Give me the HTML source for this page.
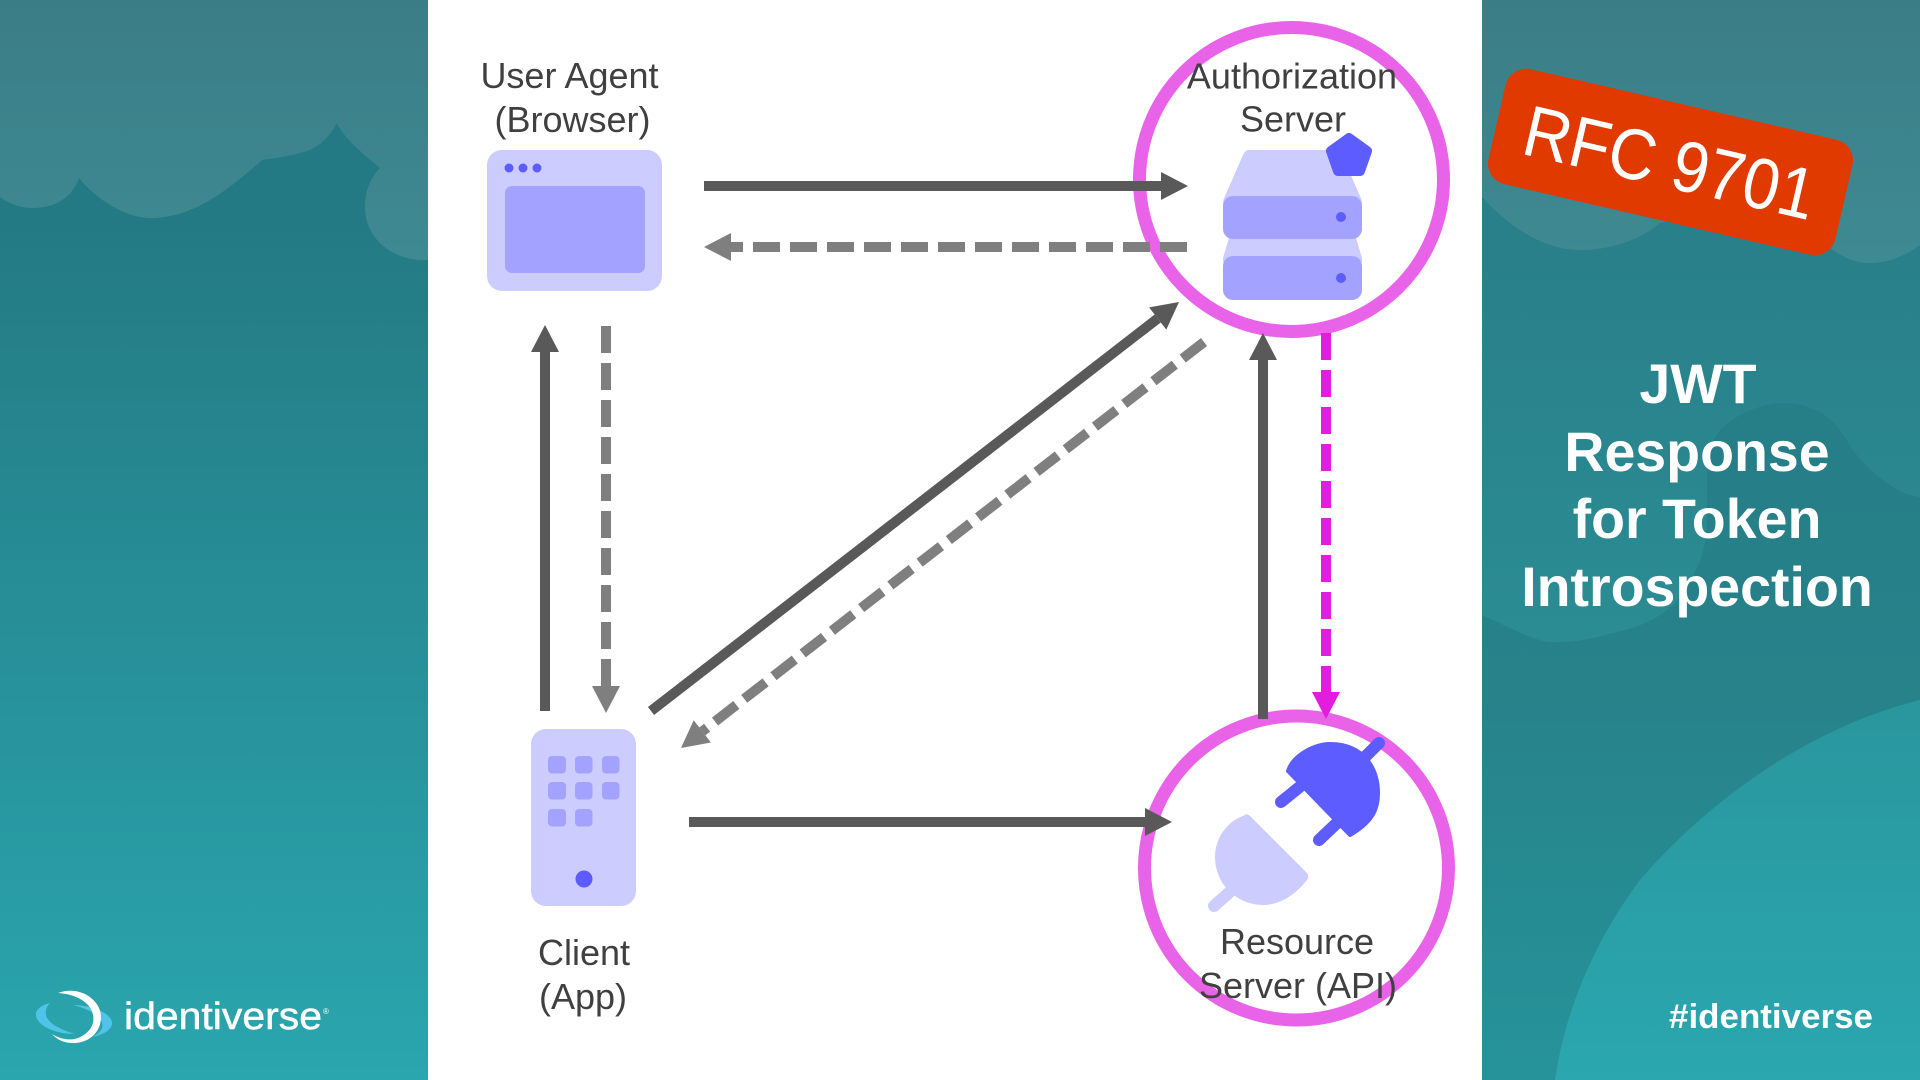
<!DOCTYPE html>
<html>
<head>
<meta charset="utf-8">
<title>JWT Response for Token Introspection</title>
<style>
html,body{margin:0;padding:0;width:1920px;height:1080px;overflow:hidden;background:#fff}
svg{display:block}
text{font-family:"Liberation Sans",Arial,sans-serif}
.lbl{font-size:36px;fill:#404040;text-anchor:middle}
.ttl{font-size:55.5px;font-weight:700;fill:#fff;text-anchor:middle}
</style>
</head>
<body>
<svg width="1920" height="1080" viewBox="0 0 1920 1080" xmlns="http://www.w3.org/2000/svg">
<defs>
<linearGradient id="lb" gradientUnits="userSpaceOnUse" x1="0" y1="220" x2="0" y2="1080">
<stop offset="0" stop-color="#247a84"/><stop offset="1" stop-color="#2aa6ae"/></linearGradient>
<linearGradient id="rb" gradientUnits="userSpaceOnUse" x1="0" y1="220" x2="0" y2="1080">
<stop offset="0" stop-color="#257b85"/><stop offset=".55" stop-color="#27828a"/><stop offset="1" stop-color="#26939a"/></linearGradient>
<linearGradient id="cl" gradientUnits="userSpaceOnUse" x1="0" y1="0" x2="0" y2="260">
<stop offset="0" stop-color="#3b7d87"/><stop offset="1" stop-color="#3e8a92"/></linearGradient>
<linearGradient id="mid" gradientUnits="userSpaceOnUse" x1="0" y1="260" x2="0" y2="640">
<stop offset="0" stop-color="#29808a"/><stop offset="1" stop-color="#2b8c93"/></linearGradient>
<linearGradient id="bl" gradientUnits="userSpaceOnUse" x1="0" y1="700" x2="0" y2="1080">
<stop offset="0" stop-color="#2a969d"/><stop offset="1" stop-color="#2aa7af"/></linearGradient>
</defs>

<!-- left panel -->
<rect x="0" y="0" width="428" height="1080" fill="url(#lb)"/>
<path d="M0,0H428V260C395,262 365,240 365,207C365,192 370,178 380,168C365,155 345,140 337,123C328,140 315,150 300,153C285,157 275,158 262,160C230,188 195,218 150,218C125,218 95,198 79,178C72,198 55,208 32,208C20,208 8,203 0,197Z" fill="url(#cl)"/>

<!-- right panel -->
<rect x="1482" y="0" width="438" height="1080" fill="url(#rb)"/>
<path d="M1482,200H1920V497C1905,495 1895,489 1887,483C1873,473 1862,462 1853,450C1845,437 1838,425 1827,417C1812,406 1797,403 1780,403C1755,405 1733,417 1720,430C1710,443 1707,458 1707,473V513C1707,535 1705,552 1697,567C1689,585 1680,600 1667,610C1650,623 1632,629 1613,633C1590,640 1568,643 1547,642C1525,637 1505,625 1482,615Z" fill="url(#mid)"/>
<path d="M1482,0H1920V245C1905,256 1888,263 1870,263C1855,263 1843,257 1833,250L1750,200L1660,223C1640,240 1610,250 1580,250C1545,250 1510,228 1482,197Z" fill="url(#cl)"/>
<path d="M1920,700C1800,730 1700,810 1640,880C1595,940 1565,1010 1555,1080H1920Z" fill="url(#bl)"/>

<!-- white centre -->
<rect x="428" y="0" width="1054" height="1080" fill="#fff"/>

<!-- circles -->
<circle cx="1291.5" cy="179.5" r="152" fill="none" stroke="#e963e9" stroke-width="13"/>
<circle cx="1296.5" cy="868" r="152" fill="none" stroke="#e963e9" stroke-width="13"/>

<!-- browser icon -->
<rect x="487" y="150" width="175" height="141" rx="15" fill="#ccccff"/>
<rect x="505" y="186" width="140" height="87" rx="7" fill="#a3a3ff"/>
<circle cx="509" cy="168" r="4.5" fill="#5c5cff"/>
<circle cx="523" cy="168" r="4.5" fill="#5c5cff"/>
<circle cx="537" cy="168" r="4.5" fill="#5c5cff"/>

<!-- phone icon -->
<rect x="531" y="729" width="105" height="177" rx="15" fill="#ccccff"/>
<g fill="#a3a3ff">
<rect x="548" y="756" width="18" height="17.5" rx="4"/><rect x="575" y="756" width="17.5" height="17.5" rx="4"/><rect x="602" y="756" width="17.5" height="17.5" rx="4"/>
<rect x="548" y="782" width="18" height="17.5" rx="4"/><rect x="575" y="782" width="17.5" height="17.5" rx="4"/><rect x="602" y="782" width="17.5" height="17.5" rx="4"/>
<rect x="548" y="809" width="18" height="17.5" rx="4"/><rect x="575" y="809" width="17.5" height="17.5" rx="4"/>
</g>
<circle cx="584" cy="879" r="8.5" fill="#5c5cff"/>

<!-- server icon -->
<path d="M1249,150H1336Q1340,150 1342,155L1360,196Q1362,200 1362,204H1223Q1223,200 1225,196L1243,155Q1245,150 1249,150Z" fill="#ccccff"/>
<path d="M1229,238H1356L1362,258V262H1223V258Z" fill="#ccccff"/>
<rect x="1223" y="196" width="139" height="43" rx="10" fill="#a3a3ff"/>
<rect x="1223" y="256" width="139" height="44" rx="10" fill="#a3a3ff"/>
<circle cx="1341" cy="217" r="5" fill="#5c5cff"/>
<circle cx="1341" cy="278" r="5" fill="#5c5cff"/>
<path d="M1349,138L1367,151L1360,171H1338L1331,151Z" fill="#5c5cff" stroke="#5c5cff" stroke-width="10" stroke-linejoin="round"/>

<!-- plug icon -->
<g stroke="#5c5cff" stroke-width="12" stroke-linecap="round" fill="none">
<path d="M1281,802L1302,785"/><path d="M1319,840L1338,822"/><path d="M1379,743L1362,760"/>
</g>
<path d="M1288,771C1293,755 1315,744 1330,744C1365,744 1378,770 1378,793C1378,810 1372,822 1350,835Z" fill="#5c5cff" stroke="#5c5cff" stroke-width="4" stroke-linejoin="round"/>
<path d="M1245,815C1225,822 1215,840 1215,857C1215,885 1238,905 1263,905C1280,905 1295,895 1307,880Q1310,876 1306,872L1250,816Q1247,813 1245,815Z" fill="#ccccff"/>
<path d="M1214,906L1232,890" stroke="#ccccff" stroke-width="12" stroke-linecap="round" fill="none"/>

<!-- connectors -->
<g fill="none" stroke-width="10">
<path d="M704,186H1161" stroke="#595959"/>
<path d="M1187,247H731" stroke="#7f7f7f" stroke-dasharray="27 10"/>
<path d="M545,711V352" stroke="#595959"/>
<path d="M606,326V686" stroke="#7f7f7f" stroke-dasharray="27 10"/>
<path d="M651,711L1157.7,318.5" stroke="#595959"/>
<path d="M1204,342L702.3,731.4" stroke="#7f7f7f" stroke-dasharray="27 10"/>
<path d="M689,822H1145" stroke="#595959"/>
<path d="M1263,719V360" stroke="#595959"/>
<path d="M1326,333V692" stroke="#e31ddd" stroke-dasharray="27 10"/>
</g>
<polygon points="1188,186 1161,172 1161,200" fill="#595959"/>
<polygon points="704,247 731,233 731,261" fill="#7f7f7f"/>
<polygon points="545,325 531,352 559,352" fill="#595959"/>
<polygon points="606,713 592,686 620,686" fill="#7f7f7f"/>
<polygon points="1179,302 1166.3,329.6 1149.1,307.4" fill="#595959"/>
<polygon points="681,748 710.9,742.5 693.7,720.3" fill="#7f7f7f"/>
<polygon points="1172,822 1145,808 1145,836" fill="#595959"/>
<polygon points="1263,333 1249,360 1277,360" fill="#595959"/>
<polygon points="1326,719 1312,692 1340,692" fill="#e31ddd"/>

<!-- labels -->
<text class="lbl" x="569.5" y="88">User Agent</text>
<text class="lbl" x="572.5" y="132">(Browser)</text>
<text class="lbl" x="1292" y="88.5">Authorization</text>
<text class="lbl" x="1293" y="131.5">Server</text>
<text class="lbl" x="1297" y="954">Resource</text>
<text class="lbl" x="1298" y="998">Server (API)</text>
<text class="lbl" x="584" y="965">Client</text>
<text class="lbl" x="583" y="1009">(App)</text>

<!-- title -->
<text class="ttl" x="1698" y="403">JWT</text>
<text class="ttl" x="1697" y="471">Response</text>
<text class="ttl" x="1697" y="538">for Token</text>
<text class="ttl" x="1697" y="606">Introspection</text>

<!-- badge -->
<g transform="translate(1670.5,162) rotate(13)">
<rect x="-178" y="-59" width="356" height="118" rx="21" fill="#e03a00"/>
<text x="-149" y="25.5" font-size="72" fill="#fff" textLength="297" lengthAdjust="spacingAndGlyphs">RFC 9701</text>
</g>

<!-- logo -->
<path d="M50,1003C41,1005 35,1010 36,1016C38,1026 55,1034 75,1034C62,1030 48,1024 46,1015C45,1010 47,1006 50,1003Z" fill="#4fc3e8"/>
<path d="M73,1005C90,1005 110,1012 112,1022C113,1029 104,1035 92,1037C100,1033 104,1028 102,1023C100,1015 88,1009 73,1005Z" fill="#4fc3e8"/>
<path d="M58,993C80,985 101,1000 101,1017C101,1035 85,1044 72,1043C65,1043 57,1040 52,1034C60,1039 70,1041 78,1038C90,1033 95,1024 93,1015C91,1002 75,994 58,993Z" fill="#fff"/>
<text x="124" y="1029" font-size="38" fill="#fff" stroke="#fff" stroke-width=".5" textLength="198" lengthAdjust="spacingAndGlyphs">identiverse</text>
<text x="323" y="1014" font-size="8" fill="#fff">®</text>
<text x="1669" y="1028" font-size="34.5" font-weight="700" fill="#fff" textLength="204" lengthAdjust="spacingAndGlyphs">#identiverse</text>
</svg>
</body>
</html>
